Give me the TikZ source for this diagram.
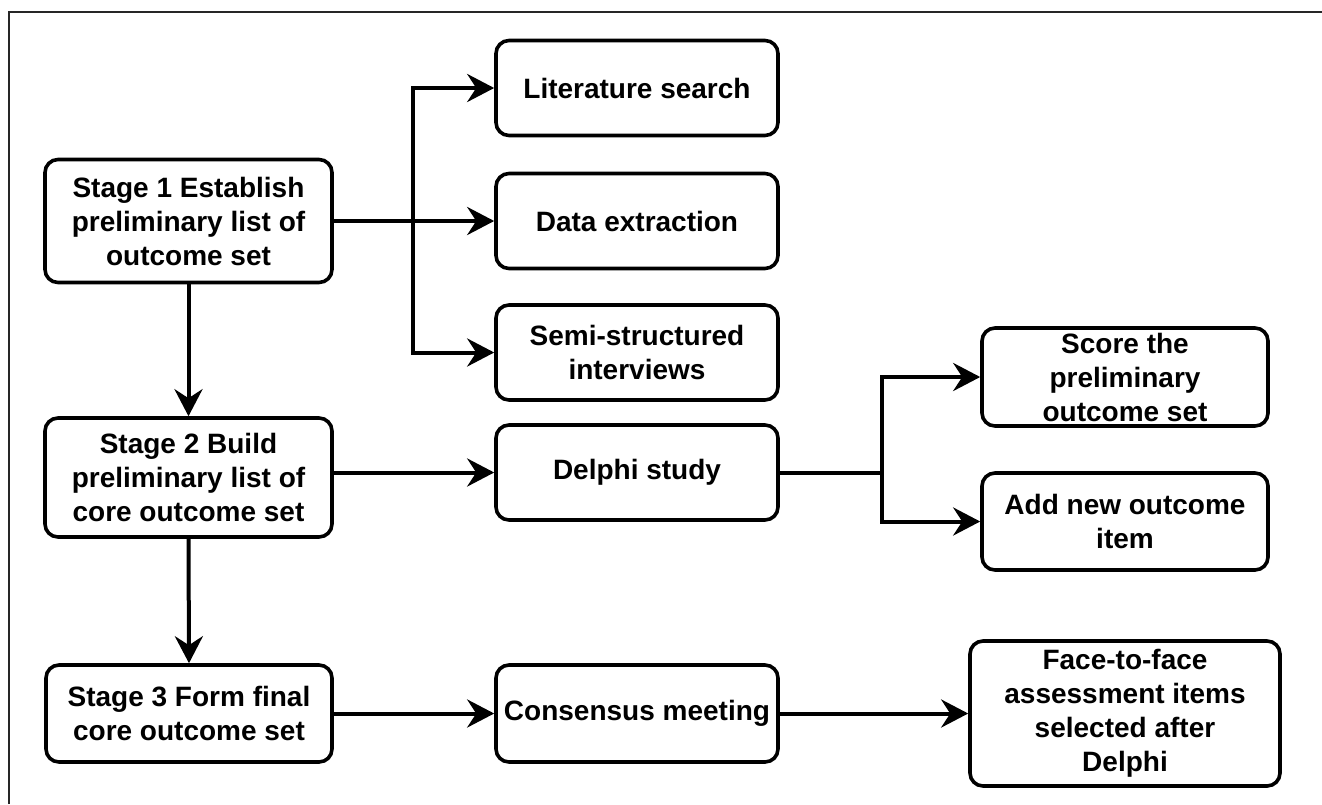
\documentclass[tikz,border=0pt]{standalone}
\usepackage{fontspec}
\setmainfont{Liberation Sans}
\usetikzlibrary{arrows.meta}
\begin{document}
\begin{tikzpicture}[x=1pt,y=-1pt,
  box/.style={draw=black, line width=3.6pt, rounded corners=13pt, fill=white,
    inner sep=0pt, align=center, font=\fontsize{28}{34}\selectfont\bfseries},
  arr/.style={line width=4pt, -{Stealth[length=27pt,width=28pt,inset=9pt]}},
  ln/.style={line width=4pt},
  frame/.style={line width=1.4pt, draw=black!85}]
\useasboundingbox (0,0) rectangle (1322,804);
\draw[frame] (9,804) -- (9,12) -- (1322,12);

\node[box, minimum width=287pt, minimum height=123pt] (s1) at (188.5,221) {Stage 1 Establish\\preliminary list of\\outcome set};
\node[box, minimum width=287pt, minimum height=119pt] (s2) at (188.5,477.5) {Stage 2 Build\\preliminary list of\\core outcome set};
\node[box, minimum width=286pt, minimum height=97pt] (s3) at (189,713.5) {Stage 3 Form final\\core outcome set};

\node[box, minimum width=282pt, minimum height=95pt] (lit) at (637,88) {Literature search};
\node[box, minimum width=282pt, minimum height=95pt] (data) at (637,221) {Data extraction};
\node[box, minimum width=282pt, minimum height=95pt] (semi) at (637,352.5) {Semi-structured\\interviews};
\node[box, minimum width=282pt, minimum height=95pt] (delphi) at (637,472.5) {Delphi study};
\node[box, minimum width=282pt, minimum height=97pt] (cons) at (637,713.5) {Consensus meeting};

\node[box, minimum width=286pt, minimum height=98pt] (score) at (1125,377) {Score the\\preliminary\\outcome set};
\node[box, minimum width=286pt, minimum height=97pt] (add) at (1125,521.5) {Add new outcome\\item};
\node[box, minimum width=310pt, minimum height=145pt] (face) at (1125,713.5) {Face-to-face\\assessment items\\selected after\\Delphi};

\coordinate (t1) at (413,221);
\coordinate (t2) at (882,472.5);

\draw[arr] (s1.east) -- (data.west);
\draw[arr] (t1) |- (lit.west);
\draw[arr] (t1) |- (semi.west);
\draw[arr] (s1.south) -- (s2.north);
\draw[arr] (s2.east |- delphi.west) -- (delphi.west);
\draw[ln] (delphi.east) -- (t2);
\draw[arr] (t2) |- (score.west);
\draw[arr] (t2) |- (add.west);
\draw[arr] (s2.south) -- (s3.north);
\draw[arr] (s3.east) -- (cons.west);
\draw[arr] (cons.east) -- (face.west);
\end{tikzpicture}
\end{document}
